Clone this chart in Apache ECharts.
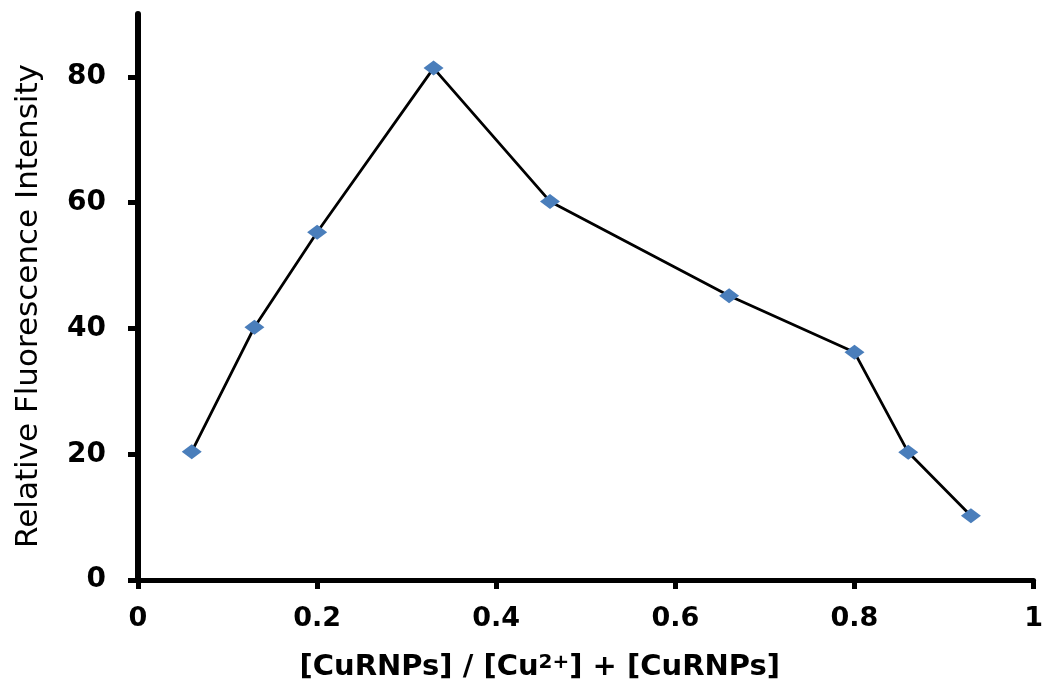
<!DOCTYPE html>
<html>
<head>
<meta charset="utf-8">
<script src="https://cdn.jsdelivr.net/npm/echarts@6/dist/echarts.min.js"></script>
<style>
  html, body { margin: 0; padding: 0; background: #fff; }
  #chart { width: 1046px; height: 688px; }
</style>
</head>
<body>
<div id="chart"></div>
<script>
// Mole-fraction (Job's plot) data: ratio vs relative fluorescence intensity
const moleFraction = [0.06, 0.13, 0.20, 0.33, 0.46, 0.66, 0.80, 0.86, 0.93];
const intensity    = [20.4, 40.2, 55.3, 81.4, 60.2, 45.2, 36.2, 20.3, 10.2];
const yTickValues  = [0, 20, 40, 60, 80];

const FONT = 'DejaVu Sans';

const chart = echarts.init(document.getElementById('chart'), null, { renderer: 'canvas' });

chart.setOption({
  backgroundColor: '#ffffff',
  animation: false,
  grid: { left: 138, right: 12, top: 14, bottom: 108, containLabel: false },
  xAxis: {
    type: 'value',
    min: 0,
    max: 1,
    interval: 0.2,
    name: '[CuRNPs] / [Cu{sup|2+}] + [CuRNPs]',
    nameLocation: 'middle',
    nameGap: 73,
    nameTextStyle: {
      fontFamily: FONT,
      fontWeight: 'bold',
      fontSize: 29,
      color: '#000',
      padding: [0, 92, 0, 0],
      rich: {
        sup: { fontFamily: FONT, fontWeight: 'bold', fontSize: 20, color: '#000', verticalAlign: 'top', lineHeight: 20 }
      }
    },
    axisLine: { show: true, lineStyle: { color: '#000', width: 5 } },
    axisTick: { show: true, inside: false, length: 9, lineStyle: { color: '#000', width: 5 } },
    axisLabel: {
      margin: 25,
      fontFamily: FONT,
      fontWeight: 'bold',
      fontSize: 27,
      color: '#000',
      formatter: v => String(+v.toFixed(1))
    },
    splitLine: { show: false }
  },
  yAxis: {
    type: 'value',
    min: 0,
    max: 90,
    interval: 20,
    name: 'Relative Fluorescence Intensity',
    nameLocation: 'middle',
    nameGap: 94,
    nameRotate: 90,
    nameTextStyle: {
      fontFamily: FONT,
      fontSize: 31,
      color: '#000',
      padding: [0, 18, 0, 0]
    },
    axisLine: { show: true, lineStyle: { color: '#000', width: 6 } },
    axisTick: { show: true, inside: false, length: 10, customValues: yTickValues, lineStyle: { color: '#000', width: 5 } },
    axisLabel: {
      margin: 32,
      fontFamily: FONT,
      fontWeight: 'bold',
      fontSize: 28,
      color: '#000',
      customValues: yTickValues
    },
    splitLine: { show: false }
  },
  series: [{
    type: 'line',
    data: moleFraction.map((x, i) => [x, intensity[i]]),
    symbol: 'diamond',
    symbolSize: [20, 15],
    showAllSymbol: true,
    lineStyle: { color: '#000', width: 2.8 },
    itemStyle: { color: '#4a7ebb', borderWidth: 0 },
    z: 3
  }]
});
</script>
</body>
</html>
